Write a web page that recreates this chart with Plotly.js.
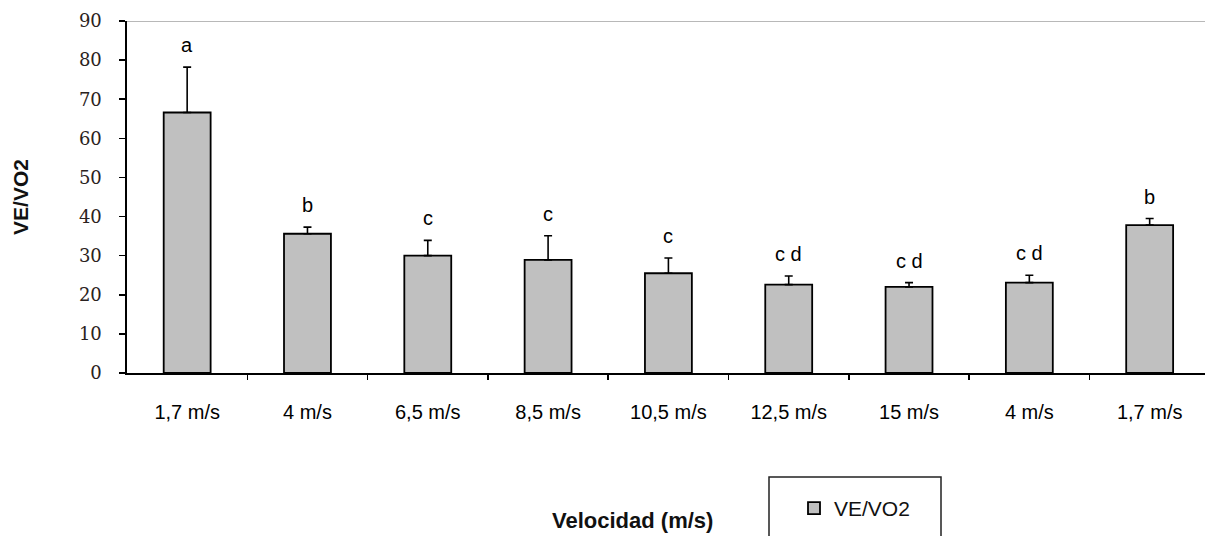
<!DOCTYPE html>
<html>
<head>
<meta charset="utf-8">
<script src="https://cdn.plot.ly/plotly-3.0.1.min.js"></script>
<style>html,body{margin:0;padding:0;background:#fff;}#chart{width:1205px;height:536px;}</style>
</head>
<body>
<div id="chart"></div>
<script>
// Data
const categories = ["1,7 m/s", "4 m/s", "6,5 m/s", "8,5 m/s", "10,5 m/s", "12,5 m/s", "15 m/s", "4 m/s", "1,7 m/s"];
const veVo2 = [66.6, 35.6, 30.0, 28.9, 25.5, 22.6, 22.0, 23.1, 37.8];
const errPlus = [11.6, 1.7, 3.9, 6.2, 3.9, 2.2, 1.1, 1.9, 1.7];
const letters = ["a", "b", "c", "c", "c", "c d", "c d", "c d", "b"];
const yTicks = [0, 10, 20, 30, 40, 50, 60, 70, 80, 90];

const xs = categories.map((c, i) => i);
const boundaries = categories.slice(1).map((c, i) => i + 0.5);

const W = 1205, H = 536;
const mL = 127, mR = 0, mT = 21, mB = 163;
const plotW = W - mL - mR, plotH = H - mT - mB;
const px2paperX = p => (p - mL) / plotW;
const px2paperY = p => (H - mB - p) / plotH;

const trace = {
  type: "bar",
  name: "VE/VO2",
  x: xs,
  y: veVo2,
  width: 0.39,
  marker: { color: "#c0c0c0", line: { color: "#000", width: 1.8 } },
  error_y: {
    type: "data", symmetric: false, array: errPlus, arrayminus: veVo2.map(() => 0),
    color: "#000", thickness: 1.6, width: 4
  },
  hoverinfo: "skip"
};

const annotations = letters.map((t, i) => ({
  x: xs[i], y: veVo2[i] + errPlus[i], xref: "x", yref: "y",
  text: t, showarrow: false, yanchor: "bottom", yshift: 9,
  font: { family: "Liberation Sans, Arial, sans-serif", size: 20, color: "#000" }
}));

annotations.push({
  x: px2paperX(632), y: px2paperY(520), xref: "paper", yref: "paper",
  text: "<b>Velocidad (m/s)</b>", showarrow: false, xanchor: "center", yanchor: "middle",
  font: { family: "Liberation Sans, Arial, sans-serif", size: 22, color: "#111" }
});

const layout = {
  width: W, height: H,
  margin: { l: mL, r: mR, t: mT, b: mB, pad: 0 },
  paper_bgcolor: "#fff", plot_bgcolor: "#fff",
  showlegend: true,
  legend: {
    x: px2paperX(794), y: px2paperY(488), xanchor: "left", yanchor: "top",
    bgcolor: "rgba(0,0,0,0)", borderwidth: 0,
    font: { family: "Liberation Sans, Arial, sans-serif", size: 21, color: "#111" }
  },
  xaxis: {
    range: [-0.5, 8.46], tickmode: "array", tickvals: xs, ticktext: categories,
    ticks: "", showgrid: false, zeroline: false, showline: true, linecolor: "#000", linewidth: 1.6,
    ticklabelstandoff: 20,
    tickfont: { family: "Liberation Sans, Arial, sans-serif", size: 20, color: "#000" },
    fixedrange: true
  },
  xaxis2: {
    overlaying: "x", anchor: "y", side: "bottom", range: [-0.5, 8.46],
    tickmode: "array", tickvals: boundaries, ticks: "outside", ticklen: 6, tickwidth: 1.6, tickcolor: "#000",
    showticklabels: false, showgrid: false, zeroline: false, showline: false
  },
  yaxis: {
    range: [0, 90], tickmode: "array", tickvals: yTicks,
    ticks: "outside", ticklen: 6, tickwidth: 1.6, tickcolor: "#000",
    showgrid: false, zeroline: false, showline: true, linecolor: "#000", linewidth: 1.6,
    ticklabelstandoff: 14,
    tickfont: { family: "DejaVu Serif, serif", size: 18, color: "#2a2220" },
    title: { text: "<b>VE/VO2</b>", standoff: 44, font: { family: "Liberation Sans, Arial, sans-serif", size: 21, color: "#111" } },
    fixedrange: true
  },
  shapes: [
    { type: "line", xref: "paper", yref: "y", x0: 0, x1: 1, y0: 90, y1: 90, line: { color: "#b8b8b8", width: 2 } },
    { type: "rect", xref: "paper", yref: "paper",
      x0: px2paperX(769), x1: px2paperX(941), y0: px2paperY(477), y1: px2paperY(560),
      line: { color: "#222", width: 1.5 }, fillcolor: "rgba(0,0,0,0)" }
  ],
  annotations: annotations
};

const ghost = { type: "scatter", x: [0], y: [0], xaxis: "x2", yaxis: "y", mode: "markers",
  marker: { opacity: 0 }, showlegend: false, hoverinfo: "skip" };

Plotly.newPlot("chart", [trace, ghost], layout, { staticPlot: true, displayModeBar: false });
</script>
</body>
</html>
